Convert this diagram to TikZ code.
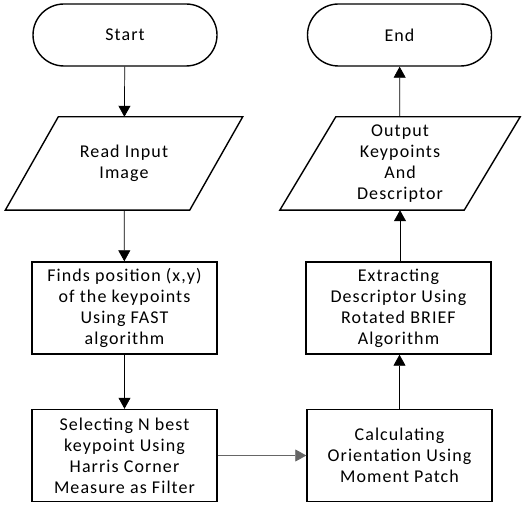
\documentclass[tikz,border=0pt]{standalone}
\usepackage{fontspec}
\setmainfont[LetterSpace=6]{Carlito}
\usetikzlibrary{arrows.meta,shapes.misc}
\begin{document}
\begin{tikzpicture}[x=1pt,y=1pt,
  font=\fontsize{18}{21}\selectfont,
  term/.style={rounded rectangle,draw,line width=1.4pt,minimum width=184pt,minimum height=62pt,inner sep=0pt},
  procbox/.style={rectangle,draw,line width=1.4pt,minimum width=185pt,minimum height=92pt,align=center,inner sep=2pt},
  iobox/.style={rectangle,minimum width=184pt,minimum height=93pt,align=center,inner sep=0pt},
  para/.style={line width=1.4pt},
  conn/.style={line width=0.7pt,-{Triangle[width=12pt,length=11pt]}}]
\useasboundingbox (0,0) rectangle (526,527);
\node[term] (start) at (125,492) {Start};
\node[iobox] (read) at (124,363.5) {Read Input\\Image};
\draw[para] ([xshift=26.5pt]read.north west) -- ([xshift=26.5pt]read.north east) -- ([xshift=-26.5pt]read.south east) -- ([xshift=-26.5pt]read.south west) -- cycle;
\node[procbox] (fast) at (124.5,219) {Finds position (x,y)\\of the keypoints\\Using FAST\\algorithm};
\node[procbox] (harris) at (124.5,71.5) {Selecting N best\\keypoint Using\\Harris Corner\\Measure as Filter};
\node[procbox] (orient) at (399.5,71.5) {Calculating\\Orientation Using\\Moment Patch};
\node[procbox] (brief) at (398.5,219) {Extracting\\Descriptor Using\\Rotated BRIEF\\Algorithm};
\node[iobox] (out) at (400,363.5) {Output\\Keypoints\\And\\Descriptor};
\draw[para] ([xshift=28pt]out.north west) -- ([xshift=28pt]out.north east) -- ([xshift=-28pt]out.south east) -- ([xshift=-28pt]out.south west) -- cycle;
\node[term] (end) at (399.5,492) {End};
\draw[conn] (start) -- (read);
\draw[conn] (read) -- (fast);
\draw[conn] (fast) -- (harris);
\draw[conn,draw=gray!80!black] (harris) -- (orient);
\draw[conn] (orient.north) -- (orient.north |- brief.south);
\draw[conn] (brief.north -| out.south) -- (out.south);
\draw[conn] (out) -- (end);
\end{tikzpicture}
\end{document}
